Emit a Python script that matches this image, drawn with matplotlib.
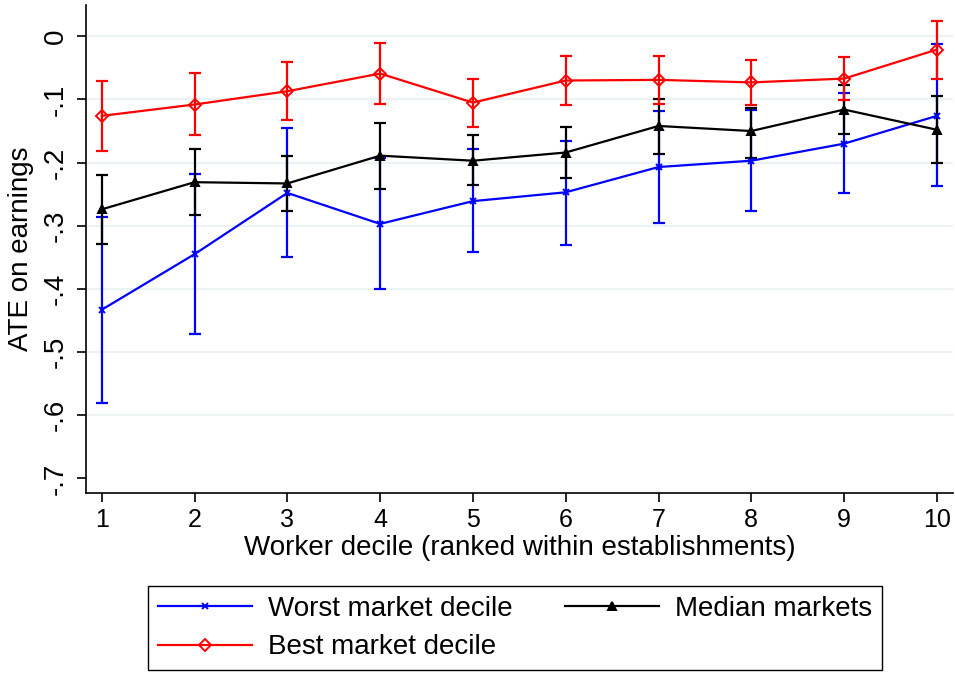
import matplotlib
matplotlib.use("Agg")
from matplotlib import pyplot as plt

plt.rcParams['font.family'] = ['Liberation Sans', 'DejaVu Sans']

deciles = [1, 2, 3, 4, 5, 6, 7, 8, 9, 10]

# worst market decile
worst = [-0.433, -0.345, -0.248, -0.297, -0.261, -0.247, -0.207, -0.197, -0.170, -0.126]
worst_hi = [-0.286, -0.218, -0.145, -0.193, -0.178, -0.165, -0.118, -0.116, -0.090, -0.012]
worst_lo = [-0.580, -0.472, -0.350, -0.400, -0.342, -0.330, -0.295, -0.277, -0.248, -0.237]

# median markets
median = [-0.274, -0.231, -0.233, -0.189, -0.197, -0.184, -0.142, -0.150, -0.116, -0.148]
median_hi = [-0.219, -0.178, -0.189, -0.137, -0.157, -0.144, -0.100, -0.113, -0.077, -0.095]
median_lo = [-0.329, -0.283, -0.277, -0.242, -0.236, -0.224, -0.186, -0.193, -0.155, -0.201]

# best market decile
best = [-0.126, -0.108, -0.087, -0.059, -0.105, -0.070, -0.069, -0.073, -0.067, -0.021]
best_hi = [-0.070, -0.058, -0.040, -0.011, -0.068, -0.031, -0.031, -0.038, -0.033, 0.025]
best_lo = [-0.181, -0.157, -0.133, -0.107, -0.144, -0.108, -0.107, -0.108, -0.101, -0.067]

yticks = [0, -0.1, -0.2, -0.3, -0.4, -0.5, -0.6, -0.7]
ytick_labels = ['0', '-.1', '-.2', '-.3', '-.4', '-.5', '-.6', '-.7']

fig = plt.figure(figsize=(9.55, 6.73), dpi=100)
ax = fig.add_axes([0.090, 0.267, 0.9076, 0.726])


def series(y, lo, hi, color, marker, label, ms, mfc):
    err = [[v - l for v, l in zip(y, lo)], [h - v for v, h in zip(y, hi)]]
    ax.errorbar(deciles, y, yerr=err, fmt='none', ecolor=color, elinewidth=1.6,
                capsize=4.4, capthick=1.6, zorder=3)
    line, = ax.plot(deciles, y, color=color, lw=1.6, marker=marker, ms=ms,
                    mfc=mfc, mec=color, mew=1.4, label=label, zorder=4)
    return line


h_worst = series(worst, worst_lo, worst_hi, '#0000ff', 'x', 'Worst market decile', 4, '#0000ff')
h_median = series(median, median_lo, median_hi, 'black', '^', 'Median markets', 5.5, 'black')
h_best = series(best, best_lo, best_hi, '#ff0000', 'D', 'Best market decile', 6.5, 'none')

for v in yticks[:-1]:
    ax.axhline(v, color='#eaf2f3', lw=1.5, zorder=1)

ax.set_xlim(0.83, 10.17)
ax.set_ylim(-0.7236, 0.05)
ax.set_xticks(deciles)
ax.set_yticks(yticks)
ax.set_yticklabels(ytick_labels, rotation=90, va='center')

for side in ['top', 'right']:
    ax.spines[side].set_visible(False)
ax.spines['left'].set_linewidth(1.2)
ax.spines['bottom'].set_linewidth(1.2)
ax.tick_params(axis='x', labelsize=18, length=6.5, width=1.2, pad=4)
ax.tick_params(axis='y', labelsize=20, length=6.5, width=1.2, pad=6)

ax.set_xlabel('Worker decile (ranked within establishments)', fontsize=20, labelpad=2)
ax.set_ylabel('ATE on earnings', fontsize=20)
ax.yaxis.set_label_coords(-0.060, 0.5)

leg = fig.legend([h_worst, h_best, h_median],
                 ['Worst market decile', 'Best market decile', 'Median markets'],
                 ncol=2, loc='lower left', bbox_to_anchor=(0.155, 0.0045),
                 fontsize=20, frameon=True, fancybox=False,
                 edgecolor='black', framealpha=1, handlelength=3.4, handletextpad=0.58,
                 columnspacing=1.87, labelspacing=0.45, borderpad=0.35, borderaxespad=0)
leg.get_frame().set_linewidth(1.0)

fig.savefig('out.png', dpi=100)
